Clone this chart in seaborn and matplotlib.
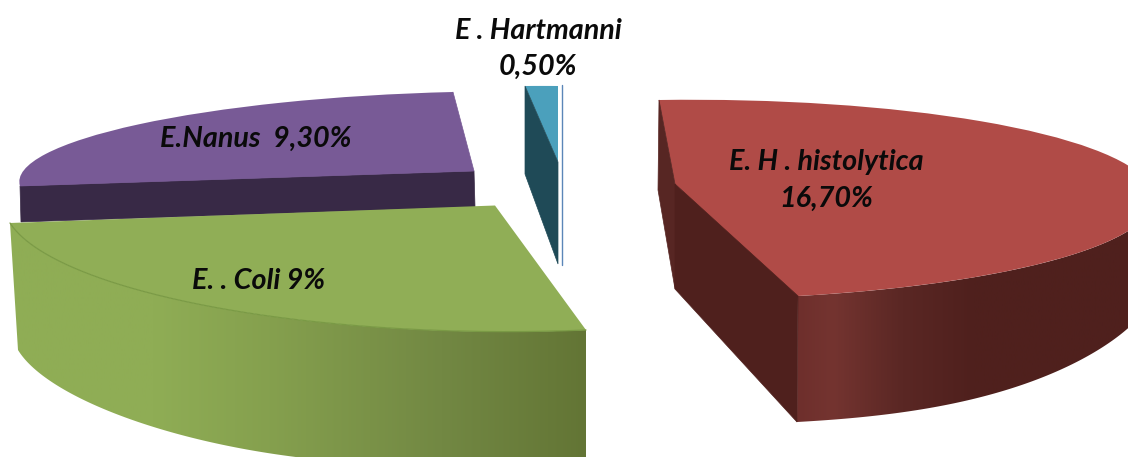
import numpy as np
import matplotlib
matplotlib.use("Agg")
import matplotlib.pyplot as plt
from matplotlib.colors import LinearSegmentedColormap
from matplotlib.patches import Polygon
from matplotlib.transforms import Affine2D
import seaborn as sns

species = ["E. H . histolytica", "E. . Coli", "E.Nanus", "E . Hartmanni"]
values = [16.7, 9.0, 9.3, 0.5]
labels = ["E. H . histolytica\n16,70%", "E. . Coli 9%", "E.Nanus  9,30%", "E . Hartmanni\n0,50%"]
top_hex = ["#B04B47", "#90AE56", "#785A96", "#4BA0BC"]

sns.set_theme(style="white")
plt.rcParams["font.family"] = ["Lato", "DejaVu Sans"]
top_colors = sns.color_palette(top_hex)

W, H = 1128, 457
fig = plt.figure(figsize=(W / 100, H / 100), dpi=100)
ax = fig.add_axes([0, 0, 1, 1])

wedges, _ = ax.pie(values, colors=top_colors, counterclock=False, startangle=85,
                   wedgeprops={"linewidth": 0})

# layout of each exploded slice in pixels: ellipse centre, rim point at slice start, at slice end
apex = [(685.5, 199.5), (495, 205.5), (445, 170), (558, 162)]
rim_start = [(659, 100), (586, 330), (20, 186), (525, 86)]
rim_end = [(798, 296), (10, 223), (453, 92), (558, 86)]

mats = []
for w, c, a, b in zip(wedges, apex, rim_start, rim_end):
    t1, t2 = np.radians(w.theta2), np.radians(w.theta1)  # clockwise: start is theta2
    unit = np.array([[np.cos(t1), np.cos(t2)], [np.sin(t1), np.sin(t2)]])
    rim = np.array([[a[0] - c[0], b[0] - c[0]], [a[1] - c[1], b[1] - c[1]]])
    m = rim @ np.linalg.inv(unit)
    mats.append((m, np.array(c, float)))
    aff = Affine2D(np.array([[m[0, 0], m[0, 1], c[0]], [m[1, 0], m[1, 1], c[1]], [0, 0, 1]]))
    w.set_transform(aff + ax.transData)
    w.set_zorder(5)


def rim_curve(i, n=300):
    w = wedges[i]
    m, c = mats[i]
    t = np.radians(np.linspace(w.theta2, w.theta1, n))
    return (m @ np.vstack([np.cos(t), np.sin(t)])).T + c


def gradient_wall(poly, stops, x0, x1, z):
    cmap = LinearSegmentedColormap.from_list("w", stops)
    grad = np.linspace(0, 1, 256).reshape(1, -1)
    im = ax.imshow(grad, cmap=cmap, extent=(x0, x1, H, 0), aspect="auto", zorder=z)
    im.set_clip_path(Polygon(poly, closed=True, transform=ax.transData))


def flat(poly, color, z):
    ax.add_patch(Polygon(poly, closed=True, facecolor=color, edgecolor=color, linewidth=0.5, zorder=z))


# ---- red slice walls
rim = rim_curve(0)
front = rim[np.argmax(rim[:, 0]):]
drop = 126 - 28 * np.clip((front[:, 0] - 798) / 330, 0, None) ** 3
bottom = np.column_stack([front[:, 0] - 1, front[:, 1] + drop])
gradient_wall(np.vstack([front, bottom[::-1]]),
              [(0, "#6E2F2C"), (0.1, "#743430"), (0.3, "#5A2724"), (0.5, "#4F201D"), (1, "#4F201D")],
              797, 1150, 2)
flat([(659, 100), (675, 184), (798, 296), (725, 190)], top_hex[0], 4)
flat([(659, 100), (675, 184), (675, 289), (658, 190)], "#572623", 6)
flat([(675, 184), (798, 296), (797, 422), (675, 289)], "#4F201D", 6)

# ---- green slice wall
rim = rim_curve(1)
u = np.clip((rim[:, 0] - 10) / 576, 0, 1)
bottom = np.column_stack([rim[:, 0] + 8 * (1 - u), rim[:, 1] + 127 + 11 * np.sin(np.pi * u)])
gradient_wall(np.vstack([rim, bottom[::-1]]),
              [(0, "#8FAD55"), (0.25, "#8FAD55"), (0.45, "#85A04E"), (0.75, "#728843"), (1, "#637535")],
              10, 587, 3)
ax.plot(rim[:, 0], rim[:, 1], color="#7A9A45", lw=0.9, zorder=6)

# ---- purple slice wall
flat([(20, 186), (474, 171), (475, 207), (21, 222)], "#382946", 1)
flat([(20, 186), (474, 171), (453, 92), (420, 140)], top_hex[2], 2)

# ---- teal slice wall
flat([(525, 86), (558, 162), (558, 264), (525, 174)], "#1F4A57", 6)
ax.plot([561.5, 561.5], [85, 265], color="#5B86B8", lw=1.0, zorder=6)

# ---- labels
label_pos = [(826, 180.5), (259, 281), (256, 139), (538, 49)]
for s, (x, y) in zip(labels, label_pos):
    ax.text(x, y, s, ha="center", va="center", fontsize=20.7, fontweight="bold",
            fontstyle="italic", color="#0A0A0A", linespacing=1.5, zorder=10)

ax.set_aspect("auto")
ax.set_xlim(0, W)
ax.set_ylim(H, 0)
ax.set_axis_off()
fig.savefig("out.png", dpi=100, facecolor="white")
